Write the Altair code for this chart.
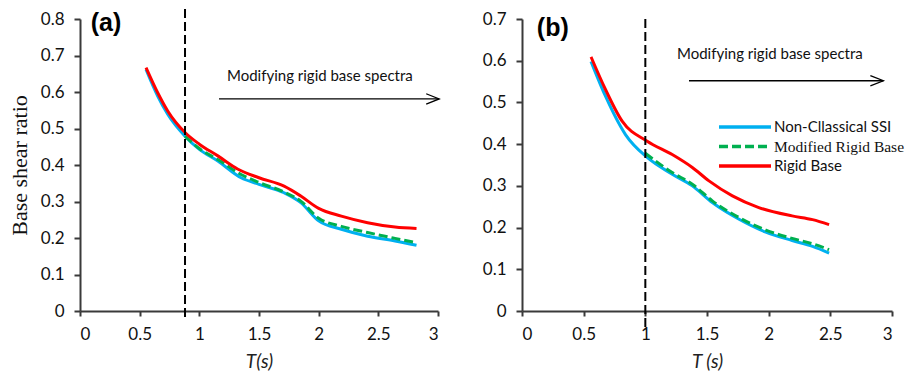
import altair as alt
import pandas as pd

BLUE = "#00B0F0"
GREEN = "#00B050"
RED = "#FF0000"
SANS = "Lato"
SERIF = "Liberation Serif"

# ---------------- Panel (a) ----------------
a_blue_T = [0.553, 0.651, 0.735, 0.88, 1.0, 1.155, 1.35, 1.5, 1.71, 1.85, 2.0, 2.19, 2.41, 2.64, 2.82]
a_blue_v = [0.662, 0.589, 0.539, 0.479, 0.443, 0.411, 0.365, 0.347, 0.324, 0.297, 0.247, 0.224, 0.205, 0.192, 0.180]
a_green_T = [0.88, 1.0, 1.155, 1.35, 1.5, 1.71, 1.85, 2.0, 2.19, 2.41, 2.64, 2.82]
a_green_v = [0.479, 0.445, 0.415, 0.374, 0.352, 0.326, 0.301, 0.254, 0.232, 0.215, 0.199, 0.187]
a_red_T = [0.553, 0.651, 0.735, 0.88, 1.0, 1.155, 1.32, 1.5, 1.71, 1.85, 2.0, 2.19, 2.41, 2.64, 2.82]
a_red_v = [0.667, 0.598, 0.548, 0.489, 0.457, 0.425, 0.389, 0.365, 0.342, 0.315, 0.281, 0.260, 0.242, 0.230, 0.226]
a_vline_T = 0.88
a_arrow = {"T0": 1.165, "T1": 3.01, "v": 0.581}
a_note = {"T": 2.01, "v": 0.644}
a_tag = {"T": 0.09, "v": 0.789, "label": "(a)"}

# ---------------- Panel (b) ----------------
b_blue_T = [0.56, 0.677, 0.839, 1.015, 1.218, 1.381, 1.543, 1.76, 1.977, 2.19, 2.356, 2.49]
b_blue_v = [0.598, 0.515, 0.423, 0.368, 0.328, 0.300, 0.260, 0.220, 0.189, 0.169, 0.155, 0.139]
b_green_T = [1.0, 1.218, 1.381, 1.543, 1.76, 1.977, 2.19, 2.356, 2.49]
b_green_v = [0.378, 0.332, 0.304, 0.264, 0.224, 0.194, 0.174, 0.161, 0.147]
b_red_T = [0.56, 0.677, 0.812, 1.015, 1.218, 1.381, 1.516, 1.706, 1.92, 2.19, 2.356, 2.49]
b_red_v = [0.609, 0.531, 0.455, 0.407, 0.375, 0.344, 0.312, 0.276, 0.248, 0.228, 0.219, 0.207]
b_vline_T = 1.0
b_arrow = {"T0": 1.354, "T1": 2.93, "v": 0.552}
b_note = {"T": 2.01, "v": 0.616}
b_tag = {"T": 0.12, "v": 0.678, "label": "(b)"}

x_ticks = [0, 0.5, 1, 1.5, 2, 2.5, 3]
a_y_ticks = [0, 0.1, 0.2, 0.3, 0.4, 0.5, 0.6, 0.7, 0.8]
b_y_ticks = [0, 0.1, 0.2, 0.3, 0.4, 0.5, 0.6, 0.7]

legend_labels = ["Non-Cllassical SSI", "Modified Rigid Base", "Rigid Base"]

W = 358
WB = 370
H = 292


def df(T, v):
    return pd.DataFrame({"T": T, "v": v})


def panel(w, ymax, yticks, xtitle, ytitle, blue, green, red, vline, vspan, arrow, note, tag, legend):
    xs = alt.Scale(domain=[0, 3], nice=False)
    ys = alt.Scale(domain=[0, ymax], nice=False)
    xaxis = alt.Axis(values=x_ticks, labelExpr="'' + datum.value", title=xtitle, labelOverlap=False)
    yaxis = alt.Axis(values=yticks, labelExpr="'' + datum.value", title=ytitle, labelOverlap=False)

    def line(d, color, dash=None):
        kw = dict(color=color, strokeWidth=3, interpolate="monotone", clip=False)
        if dash:
            kw["strokeDash"] = dash
        return alt.Chart(d).mark_line(**kw).encode(
            x=alt.X("T:Q", scale=xs, axis=xaxis),
            y=alt.Y("v:Q", scale=ys, axis=yaxis),
        )

    layers = [
        line(df(*blue), BLUE),
        line(df(*green), GREEN, [9, 4]),
        line(df(*red), RED),
    ]
    vl = pd.DataFrame({"T": [vline]})
    layers.append(
        alt.Chart(vl).mark_rule(color="black", strokeWidth=2, strokeDash=[9, 4]).encode(
            x=alt.X("T:Q", scale=xs, axis=xaxis), y=alt.value(vspan[0]), y2=alt.value(H + vspan[1])
        )
    )
    ar = pd.DataFrame({"T0": [arrow["T0"]], "T1": [arrow["T1"]], "v": [arrow["v"]]})
    layers.append(
        alt.Chart(ar).mark_rule(color="black", strokeWidth=1.3).encode(
            x=alt.X("T0:Q", scale=xs, axis=xaxis), x2="T1:Q", y=alt.Y("v:Q", scale=ys, axis=yaxis)
        )
    )
    layers.append(
        alt.Chart(ar).mark_point(shape="M-1,-0.4L0,0L-1,0.4", filled=False, size=676,
                                 color="black", strokeWidth=1.3, opacity=1).encode(
            x=alt.X("T1:Q", scale=xs, axis=xaxis), y=alt.Y("v:Q", scale=ys, axis=yaxis)
        )
    )
    nt = pd.DataFrame({"T": [note["T"]], "v": [note["v"]], "label": ["Modifying rigid base spectra"]})
    layers.append(
        alt.Chart(nt).mark_text(font=SANS, fontSize=15, color="#111", align="center", baseline="middle").encode(
            x=alt.X("T:Q", scale=xs, axis=xaxis), y=alt.Y("v:Q", scale=ys, axis=yaxis), text="label:N"
        )
    )
    tg = pd.DataFrame({"T": [tag["T"]], "v": [tag["v"]], "label": [tag["label"]]})
    layers.append(
        alt.Chart(tg).mark_text(font="Liberation Sans", fontSize=25, fontWeight="bold", color="black",
                                align="left", baseline="middle").encode(
            x=alt.X("T:Q", scale=xs, axis=xaxis), y=alt.Y("v:Q", scale=ys, axis=yaxis), text="label:N"
        )
    )
    if legend:
        colors = [BLUE, GREEN, RED]
        fonts = [SANS, SERIF, SANS]
        sizes = [15, 15.5, 15]
        for i, lab in enumerate(legend_labels):
            yy = 108 + 19.5 * i
            kw = dict(color=colors[i], strokeWidth=3.5)
            if i == 1:
                kw["strokeDash"] = [9, 4]
            layers.append(
                alt.Chart(pd.DataFrame({"label": [lab]})).mark_rule(**kw).encode(
                    x=alt.value(197), x2=alt.value(249), y=alt.value(yy)
                )
            )
            layers.append(
                alt.Chart(pd.DataFrame({"label": [lab]})).mark_text(
                    font=fonts[i], fontSize=sizes[i], color="#111", align="left", baseline="middle"
                ).encode(x=alt.value(252), y=alt.value(yy), text="label:N")
            )
    return alt.layer(*layers).properties(width=w, height=H)


pa = panel(W, 0.8, a_y_ticks, "T(s)", "Base shear ratio",
           (a_blue_T, a_blue_v), (a_green_T, a_green_v), (a_red_T, a_red_v),
           a_vline_T, (-10, 10), a_arrow, a_note, a_tag, False)
pb = panel(WB, 0.7, b_y_ticks, "T (s)", None,
           (b_blue_T, b_blue_v), (b_green_T, b_green_v), (b_red_T, b_red_v),
           b_vline_T, (0, 20), b_arrow, b_note, b_tag, True)

chart = alt.hconcat(pa, pb, spacing=40).properties(padding=0).configure_view(
    stroke=None
).configure_axis(
    grid=False, domainColor="#3a3a3a", tickColor="#3a3a3a", domainWidth=2, tickWidth=2,
    labelFont=SANS, labelFontSize=17, labelColor="#111", labelPadding=10,
).configure_axisX(
    tickSize=5, titleFont=SANS, titleFontStyle="italic", titleFontWeight="normal",
    titleFontSize=19, titlePadding=10, titleColor="#222",
).configure_axisY(
    tickSize=6, titleFont=SERIF, titleFontSize=22, titleFontWeight="normal",
    titlePadding=9, titleColor="#111",
)

chart.save("out.html", embed_options={"renderer": "svg", "actions": False})
